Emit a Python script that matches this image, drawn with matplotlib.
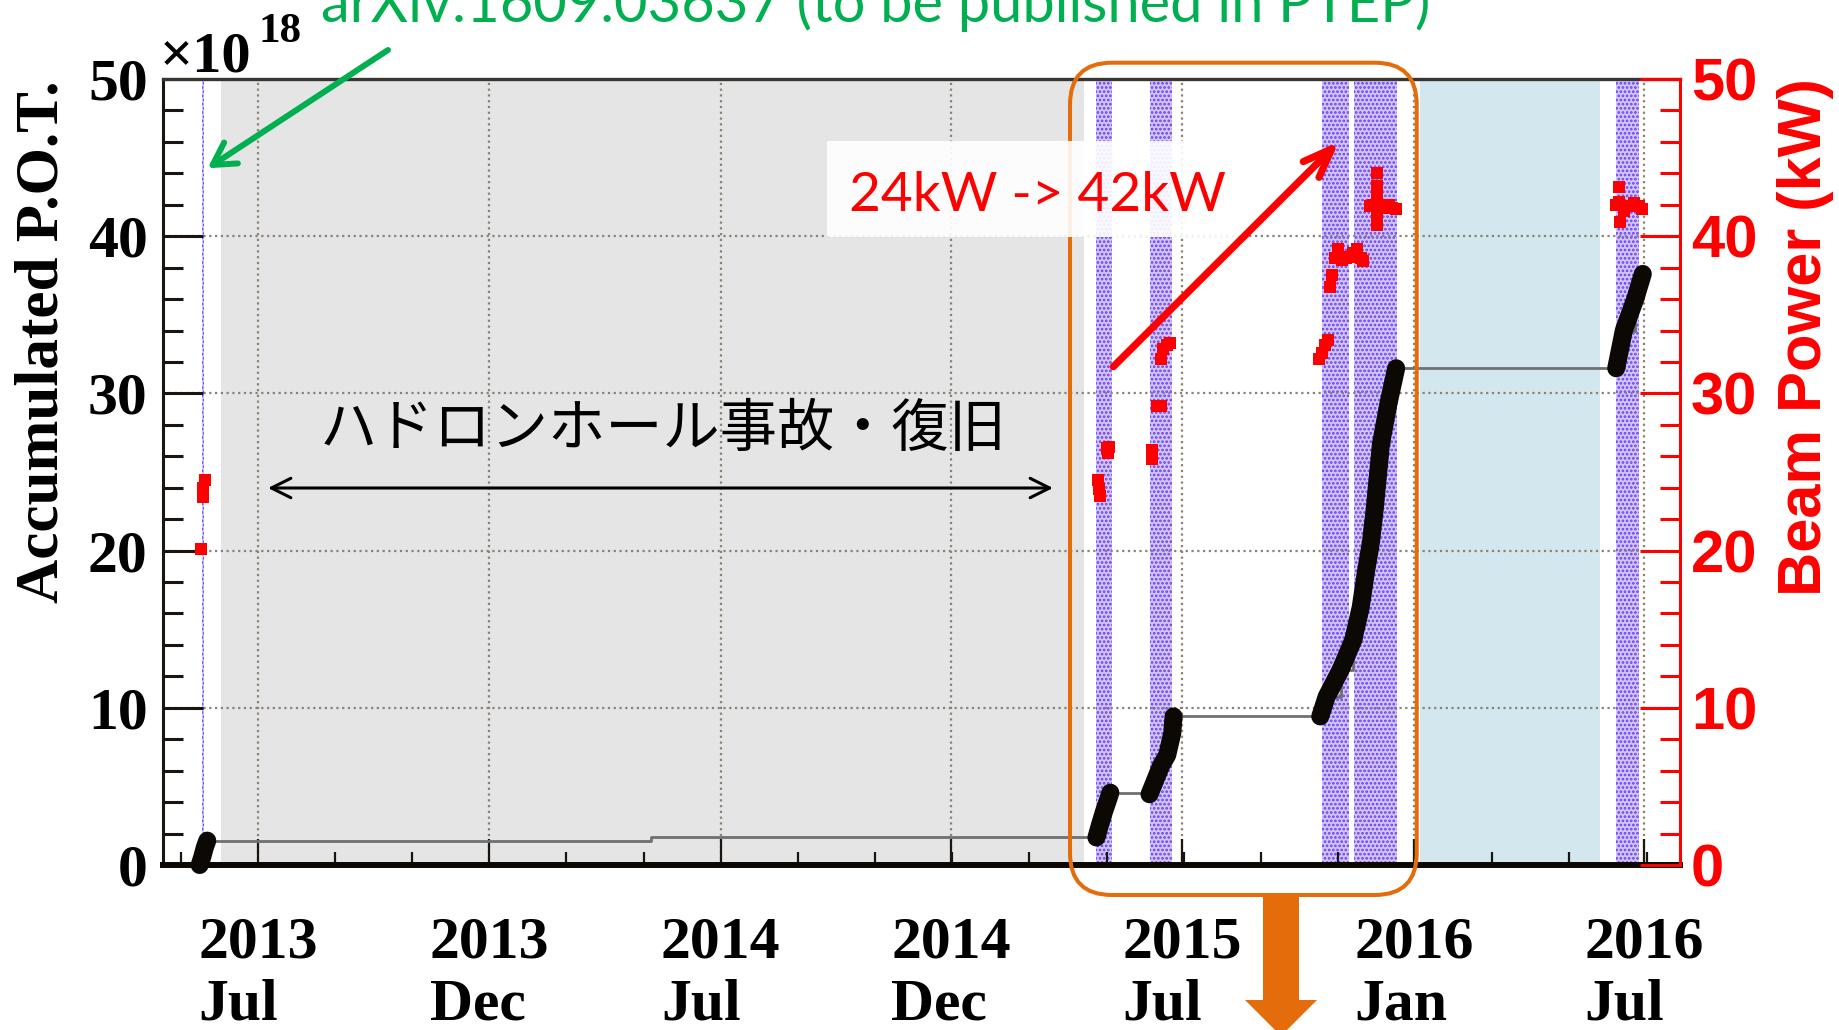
import pandas as pd
import matplotlib
matplotlib.use('Agg')
import matplotlib.pyplot as plt
from matplotlib.patches import FancyBboxPatch, FancyArrowPatch, Polygon, Rectangle
from matplotlib.ticker import MultipleLocator, AutoMinorLocator

W, H = 1839, 1030

# accumulated P.O.T. (x1e18) during each beam period
run1_dates = ['2013-05-16', '2013-05-18', '2013-05-20', '2013-05-22']
run1_pot = [0.0, 0.5, 1.1, 1.55]
idle_dates = ['2014-05-08']
idle_pot = [1.75]
run2_dates = ['2015-04-25', '2015-04-28', '2015-05-01', '2015-05-04', '2015-05-06']
run2_pot = [1.75, 2.6, 3.4, 4.1, 4.6]
run3_dates = ['2015-06-06', '2015-06-10', '2015-06-15', '2015-06-20', '2015-06-24', '2015-06-25']
run3_pot = [4.5, 5.3, 6.3, 7.0, 8.4, 9.45]
run4_dates = ['2015-10-19', '2015-10-24', '2015-11-04', '2015-11-14', '2015-11-20', '2015-11-24',
              '2015-11-28', '2015-12-01', '2015-12-03', '2015-12-06', '2015-12-12', '2015-12-18']
run4_pot = [9.45, 10.7, 12.4, 14.3, 16.4, 18.6, 20.5, 22.6, 24.3, 26.8, 29.4, 31.6]
run5_dates = ['2016-06-09', '2016-06-15', '2016-06-24', '2016-06-30']
run5_pot = [31.6, 34.0, 36.0, 37.6]

# beam power (kW)
power_dates = ['2013-05-17', '2013-05-19', '2013-05-19', '2013-05-20',
               '2015-04-26', '2015-04-27', '2015-04-28', '2015-05-03', '2015-05-04', '2015-05-05',
               '2015-06-08', '2015-06-08', '2015-06-12', '2015-06-15',
               '2015-06-15', '2015-06-17', '2015-06-20', '2015-06-22',
               '2015-10-18', '2015-10-20', '2015-10-23', '2015-10-25', '2015-10-27', '2015-10-28',
               '2015-10-31', '2015-11-02', '2015-11-05', '2015-11-08', '2015-11-11', '2015-11-14',
               '2015-11-17', '2015-11-20', '2015-11-22',
               '2015-11-27', '2015-11-30', '2015-12-03', '2015-12-03', '2015-12-03', '2015-12-03',
               '2015-12-03', '2015-12-06', '2015-12-09', '2015-12-12', '2015-12-15', '2015-12-18',
               '2016-06-09', '2016-06-11', '2016-06-11', '2016-06-12', '2016-06-15', '2016-06-19',
               '2016-06-23', '2016-06-27', '2016-06-29']
power_kw = [20.1, 23.4, 24.0, 24.5,
            24.5, 23.9, 23.5, 26.5, 26.2, 26.6,
            26.4, 25.8, 29.2, 29.2,
            32.2, 32.8, 33.1, 33.2,
            32.2, 32.6, 33.1, 33.4, 36.8, 37.5,
            38.6, 39.2, 38.5, 38.6, 38.7, 38.9,
            39.2, 38.6, 38.4,
            41.9, 42.0, 44.0, 43.2, 42.4, 41.4,
            40.7, 41.8, 41.9, 42.0, 41.8, 41.7,
            42.0, 43.1, 42.2, 40.9, 41.6, 41.9,
            42.1, 41.9, 41.7]

# periods
band_start = ['2013-05-18', '2015-04-25', '2015-06-06', '2015-10-20', '2015-11-15', '2016-06-09']
band_end = ['2013-05-19 18:00', '2015-05-07', '2015-06-24', '2015-11-11', '2015-12-19', '2016-06-27']
hall_start, hall_end = '2013-06-02', '2015-04-15'
shutdown_start, shutdown_end = '2016-01-06', '2016-05-27'

tick_dates = ['2013-07-01', '2013-12-31', '2014-07-02', '2014-12-31',
              '2015-07-02', '2016-01-01', '2016-07-01']
tick_labels = ['2013\nJul', '2013\nDec', '2014\nJul', '2014\nDec',
               '2015\nJul', '2016\nJan', '2016\nJul']

plt.rcParams['font.family'] = ['Liberation Serif', 'DejaVu Serif']
plt.rcParams['font.weight'] = 'bold'
plt.rcParams['hatch.linewidth'] = 1.3


def fpos(x, y):
    # pixel position (from top-left) -> figure fraction
    return x / W, 1 - y / H


fig = plt.figure(figsize=(W / 100, H / 100), dpi=100)
ax = fig.add_axes([163 / W, 1 - 865 / H, (1680 - 163) / W, (865 - 79) / H])
ax.set_xlim(pd.Timestamp('2013-04-17'), pd.Timestamp('2016-07-29 10:00'))
ax.set_ylim(0, 50)

ax.axvspan(pd.Timestamp(hall_start), pd.Timestamp(hall_end), color='#e5e5e5', lw=0, zorder=0.2)
ax.axvspan(pd.Timestamp(shutdown_start), pd.Timestamp(shutdown_end), color='#d2e8ee', lw=0, zorder=0.2)
for s, e in zip(band_start, band_end):
    ax.axvspan(pd.Timestamp(s), pd.Timestamp(e), facecolor='#d2c6ff', edgecolor='#6a3cf2',
               hatch='....', lw=0, zorder=0.3)

ax.grid(True, which='major', color='#8a8274', lw=1.6, ls=(0, (1, 1.6)))

# accumulated line (flat between periods)
all_dates = pd.to_datetime(run1_dates + idle_dates + run2_dates + run3_dates + run4_dates + run5_dates)
all_pot = run1_pot + idle_pot + run2_pot + run3_pot + run4_pot + run5_pot
ax.plot(all_dates, all_pot, drawstyle='steps-post', color='#707070', lw=2, zorder=2)
for d, v in [(run1_dates, run1_pot), (run2_dates, run2_pot), (run3_dates, run3_pot),
             (run4_dates, run4_pot), (run5_dates, run5_pot)]:
    ax.plot(pd.to_datetime(d), v, color='#0c0904', lw=13, solid_capstyle='round',
            solid_joinstyle='round', zorder=3, clip_on=False)

ax.set_xticks(pd.to_datetime(tick_dates), tick_labels, linespacing=1.2, multialignment='left')
ax.xaxis.set_minor_locator(AutoMinorLocator(3))
ax.yaxis.set_major_locator(MultipleLocator(10))
ax.yaxis.set_minor_locator(MultipleLocator(2))
tick_col = '#1a1510'
ax.tick_params(axis='y', which='major', direction='in', length=29, width=2.2, color=tick_col,
               labelsize=43, pad=11, right=False)
ax.tick_params(axis='y', which='minor', direction='in', length=14.4, width=2.2, color=tick_col, right=False)
ax.tick_params(axis='x', which='major', direction='in', length=19, width=1.6, color=tick_col,
               labelsize=43, pad=37, top=False)
ax.tick_params(axis='x', which='minor', direction='in', length=9.4, width=1.6, color=tick_col, top=False)
ax.spines['left'].set_linewidth(2.2)
ax.spines['left'].set_color(tick_col)
ax.spines['bottom'].set_linewidth(4.3)
ax.spines['bottom'].set_color('#0c0904')
ax.spines['top'].set_linewidth(2.4)
ax.spines['top'].set_color('#3a3530')
ax.spines['right'].set_visible(False)

# beam power on the right axis
ax2 = ax.twinx()
ax2.set_ylim(0, 50)
ax2.plot(pd.to_datetime(power_dates), power_kw, 's', color='#ff0000', ms=9, mew=0, zorder=4)
ax2.yaxis.set_major_locator(MultipleLocator(10))
ax2.yaxis.set_minor_locator(MultipleLocator(2))
ax2.tick_params(axis='y', which='major', direction='in', length=29, width=2.2, color='#ff0000',
                labelcolor='#ff0000', labelsize=43, pad=8, labelfontfamily='Liberation Sans')
ax2.tick_params(axis='y', which='minor', direction='in', length=14.4, width=2.2, color='#ff0000')
for side in ['left', 'top', 'bottom']:
    ax2.spines[side].set_visible(False)
ax2.spines['right'].set_color('#ff0000')
ax2.spines['right'].set_linewidth(2.2)


def fit_text(t, size_px, along='width'):
    r = fig.canvas.get_renderer()
    bb = t.get_window_extent(r)
    cur = bb.width if along == 'width' else bb.height
    t.set_fontsize(t.get_fontsize() * size_px / cur)


t = fig.text(*fpos(43, 341.5), 'Accumulated P.O.T.', rotation=90, ha='center', va='center',
             fontsize=44, fontweight='bold')
fit_text(t, 523, 'height')
t = fig.text(*fpos(1806, 337), 'Beam Power (kW)', rotation=90, ha='center', va='center',
             fontsize=44, fontweight='bold', family=['Liberation Sans'], color='#ff0000')
fit_text(t, 518, 'height')
fig.text(*fpos(160, 71), '×10', ha='left', va='baseline', fontsize=42, fontweight='bold')
fig.text(*fpos(258, 42), '18', ha='left', va='baseline', fontsize=31, fontweight='bold')

# annotations
orange = '#e46c0a'
fig.add_artist(FancyBboxPatch((1070 / W, 1 - 895 / H), (1416.7 - 1070) / W, (895 - 62.7) / H,
                              boxstyle='round,pad=0,rounding_size=0.0228', mutation_aspect=W / H,
                              transform=fig.transFigure, fill=False, edgecolor=orange, lw=2.9, zorder=1))
arrow_pts = [(1263, 895), (1299, 895), (1299, 1000), (1317, 1000), (1281, 1036), (1245, 1000), (1263, 1000)]
fig.add_artist(Polygon([fpos(x, y) for x, y in arrow_pts], closed=True, transform=fig.transFigure,
                       facecolor=orange, lw=0, zorder=1))
fig.add_artist(Rectangle((827 / W, 1 - 237 / H), (1248 - 827) / W, (237 - 141) / H,
                         transform=fig.transFigure, facecolor='white', alpha=0.9, lw=0, zorder=2))

t = fig.text(*fpos(876, 21.7), 'arXiv:1609.03637 (to be published in PTEP)', ha='center', va='baseline',
             color='#00b050', family=['Lato', 'DejaVu Sans'], fontweight='normal', fontsize=44)
fit_text(t, 1109)
t = fig.text(*fpos(1037.7, 210.7), '24kW -> 42kW', ha='center', va='baseline', color='#ff0000',
             family=['Lato', 'DejaVu Sans'], fontweight='normal', fontsize=44, zorder=3)
fit_text(t, 377)
t = fig.text(*fpos(663, 430), 'ハドロンホール事故・復旧', ha='center', va='center', color='black',
             family=['Noto Sans CJK JP', 'DejaVu Sans'], fontweight='normal', fontsize=42)
fit_text(t, 687)

fig.add_artist(FancyArrowPatch(fpos(388, 50), fpos(207.6, 168.3), transform=fig.transFigure,
                               arrowstyle='->,head_length=15.8,head_width=9', mutation_scale=1,
                               lw=4.3, color='#00b050', shrinkA=0, shrinkB=0, zorder=5))
fig.add_artist(FancyArrowPatch(fpos(1113.3, 366.7), fpos(1339, 141.7), transform=fig.transFigure,
                               arrowstyle='->,head_length=21,head_width=8', mutation_scale=1,
                               lw=5.2, color='#ff0000', shrinkA=0, shrinkB=0, zorder=5))
fig.add_artist(FancyArrowPatch(fpos(268, 488), fpos(1053, 488), transform=fig.transFigure,
                               arrowstyle='<->,head_length=14,head_width=7', mutation_scale=1,
                               lw=2.2, color='black', shrinkA=0, shrinkB=0, zorder=5))

fig.savefig('out.png', dpi=100)
